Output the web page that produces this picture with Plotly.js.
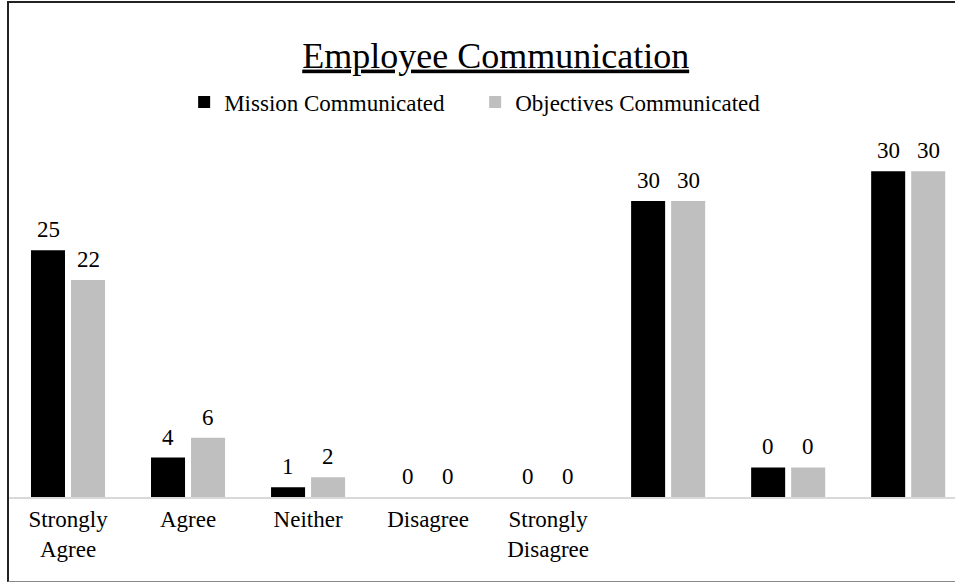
<!DOCTYPE html>
<html>
<head>
<meta charset="utf-8">
<script src="https://cdn.plot.ly/plotly-3.0.1.min.js"></script>
<style>
	html, body { margin: 0; padding: 0; background: #fff; }
	#wrap { position: relative; width: 955px; height: 582px; }
	#chart { width: 955px; height: 582px; }
	/* chart-area frame (cropped on the right in the original) */
	#frame {
		position: absolute; left: 7px; top: 1px; width: 960px; height: 578px;
		border-left: 2px solid #222; border-top: 2px solid #222; border-bottom: 1px solid #888;
		pointer-events: none;
	}
</style>
</head>
<body>
<div id="wrap">
	<div id="chart"></div>
	<div id="frame"></div>
</div>
<script>
	'use strict';

	// categories (last three have no label in the original)
	const categories = ['Strongly<br>Agree', 'Agree', 'Neither', 'Disagree', 'Strongly<br>Disagree', '', '', ''];

	// bar heights as drawn
	const missionValues = [25, 4, 1, 0, 0, 30, 3, 33];
	const objectivesValues = [22, 6, 2, 0, 0, 30, 3, 33];

	// data labels as printed (they don't always match the bars)
	const missionLabels = ['25', '4', '1', '0', '0', '30', '0', '30'];
	const objectivesLabels = ['22', '6', '2', '0', '0', '30', '0', '30'];

	const seriesNames = ['Mission Communicated', 'Objectives Communicated'];
	const seriesColors = ['#000000', '#bfbfbf'];

	const font = 'Liberation Serif, Times New Roman, serif';
	const barGap = 0.333;
	const barGroupGap = 0.15;

	const xPos = categories.map(( c, i ) => i );

	const traces = seriesNames.map(( name, s ) => ({
		type: 'bar',
		name,
		x: xPos,
		y: s === 0 ? missionValues : objectivesValues,
		marker: { color: seriesColors[s], line: { width: 0 } },
		hoverinfo: 'y',
	}));

	// data labels - placed above each bar of the group
	const slotOffset = ( 1 - barGap ) / 4;
	const annotations = [];
	[[missionValues, missionLabels, -1], [objectivesValues, objectivesLabels, 1]].forEach(([ vals, labels, side ]) => {
		vals.forEach(( v, i ) => {
			annotations.push({
				x: i + side * slotOffset,
				y: v,
				xref: 'x',
				yref: 'y',
				text: labels[i],
				showarrow: false,
				yanchor: 'bottom',
				yshift: 6,
				font: { family: font, size: 23, color: '#000' },
			});
		});
	});

	const layout = {
		width: 955,
		height: 582,
		margin: { l: 8, r: 0, t: 150, b: 85 },
		paper_bgcolor: '#fff',
		plot_bgcolor: '#fff',
		font: { family: font, size: 23, color: '#000' },
		title: {
			text: '<u>Employee Communication</u>',
			font: { family: font, size: 36, color: '#000' },
			x: 0.515,
			xref: 'paper',
			xanchor: 'center',
			y: 1 - 55 / 582,
			yref: 'container',
			yanchor: 'middle',
		},
		showlegend: true,
		legend: {
			orientation: 'h',
			x: 0.186,
			xanchor: 'left',
			y: 1 - 102 / 582,
			yref: 'container',
			yanchor: 'middle',
			entrywidth: 246,
			font: { family: font, size: 23, color: '#000' },
			bgcolor: 'rgba(0,0,0,0)',
		},
		barmode: 'group',
		bargap: barGap,
		bargroupgap: barGroupGap,
		xaxis: {
			range: [-0.5, 7.39],
			tickvals: xPos,
			ticktext: categories,
			showline: true,
			linecolor: '#d9d9d9',
			linewidth: 2,
			showgrid: false,
			zeroline: false,
			ticks: '',
			tickfont: { family: font, size: 23, color: '#000' },
		},
		yaxis: {
			range: [0, 35.16],
			visible: false,
			showgrid: false,
			zeroline: false,
		},
		annotations,
	};

	Plotly.newPlot('chart', traces, layout, { displayModeBar: false, responsive: false });
</script>
</body>
</html>
